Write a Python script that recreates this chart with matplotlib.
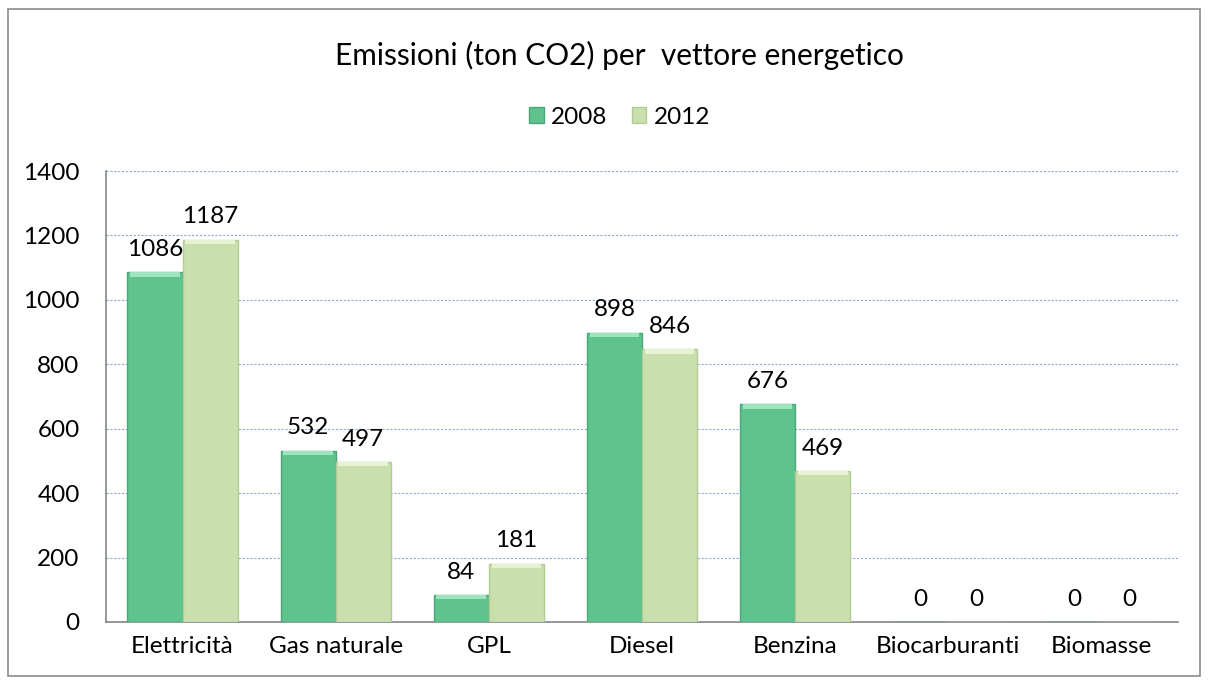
import matplotlib
matplotlib.use("Agg")
import matplotlib.pyplot as plt
import numpy as np
from matplotlib.patches import Rectangle

categories = ["Elettricità", "Gas naturale", "GPL", "Diesel", "Benzina", "Biocarburanti", "Biomasse"]
series_names = ["2008", "2012"]
values_2008 = [1086, 532, 84, 898, 676, 0, 0]
values_2012 = [1187, 497, 181, 846, 469, 0, 0]
yticks = [0, 200, 400, 600, 800, 1000, 1200, 1400]

plt.rcParams["font.family"] = ["Lato", "DejaVu Sans"]

fig = plt.figure(figsize=(12.08, 6.8), dpi=100)
fig.patch.set_facecolor("white")
# outer chart border
fig.add_artist(Rectangle((0.007, 0.006), 0.986, 0.981, transform=fig.transFigure,
                         fill=False, edgecolor="#8c8c8c", linewidth=1.2))

ax = fig.add_axes([106 / 1208, 1 - 622 / 680, (1178 - 106) / 1208, (622 - 171) / 680])

x = np.arange(len(categories))
w = 0.36
fills = ["#5fc38e", "#c9e0ae"]
edges = ["#4aa877", "#b3cc96"]
tops = ["#9fe3bf", "#e6f2d2"]

for i, (vals, name) in enumerate(zip([values_2008, values_2012], series_names)):
    pos = x + (i - 0.5) * w
    ax.bar(pos, vals, width=w, color=fills[i], edgecolor=edges[i], linewidth=1.0,
           label=name, zorder=3)
    # light bevel strip along the top edge of each bar
    for p, v in zip(pos, vals):
        if v > 0:
            ax.bar(p, min(14, v), bottom=v - min(14, v), width=w * 0.9,
                   color=tops[i], linewidth=0, zorder=4)
        ax.text(p, v + 38, str(v), ha="center", va="bottom", fontsize=17.5, color="black", zorder=5)

ax.set_xlim(-0.5, len(categories) - 0.5)
ax.set_ylim(0, 1400)
ax.set_yticks(yticks)
ax.set_xticks(x)
ax.set_xticklabels(categories, fontsize=17.5)
ax.tick_params(axis="y", labelsize=17.5, length=0, pad=19)
ax.tick_params(axis="x", length=0, pad=10)
ax.yaxis.grid(True, color="#8ea9d8", linestyle=(0, (2, 1.5)), linewidth=0.8, zorder=0)
ax.set_axisbelow(True)
for s in ["top", "right"]:
    ax.spines[s].set_visible(False)
ax.spines["left"].set_color("#868686")
ax.spines["bottom"].set_color("#868686")
ax.spines["left"].set_linewidth(1.2)
ax.spines["bottom"].set_linewidth(1.2)

fig.text(0.513, 1 - 55 / 680, "Emissioni (ton CO2) per  vettore energetico", ha="center", va="center",
         fontsize=21.5)
leg = fig.legend(loc="center", bbox_to_anchor=(0.513, 1 - 117 / 680), ncol=2, frameon=False,
                 fontsize=17.5, handlelength=0.6, handleheight=0.6, handletextpad=0.3, columnspacing=1.0)

fig.savefig("out.png", dpi=100)
